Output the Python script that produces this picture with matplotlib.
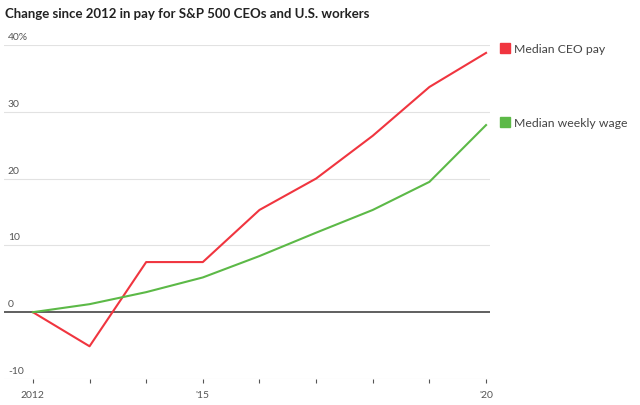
import matplotlib.pyplot as plt
import matplotlib.transforms as mtransforms

# Data (% change since 2012)
years = [2012, 2013, 2014, 2015, 2016, 2017, 2018, 2019, 2020]
ceo_pay = [0, -5.1, 7.5, 7.5, 15.3, 20.0, 26.4, 33.7, 38.8]
weekly_wage = [0, 1.2, 3.0, 5.2, 8.4, 11.9, 15.3, 19.5, 28.0]
ytick_vals = [-10, 0, 10, 20, 30, 40]
ytick_labels = ['-10', '0', '10', '20', '30', '40%']
xtick_vals = [2012, 2015, 2020]
xtick_labels = ['2012', "'15", "'20"]

red = '#f0353f'
green = '#5cb947'
plt.rcParams['font.family'] = ['Lato', 'DejaVu Sans']

fig = plt.figure(figsize=(6.4, 4.06), dpi=100)
ax = fig.add_axes([0.00625, 0.064, 0.7594, 0.823])

ax.plot(years, ceo_pay, color=red, linewidth=1.5, zorder=3)
ax.plot(years, weekly_wage, color=green, linewidth=1.5, zorder=3)

ax.set_xlim(2011.49, 2020.07)
ax.set_ylim(-10, 40)

# gridlines + labels sitting above them
trans = mtransforms.blended_transform_factory(ax.transAxes, ax.transData)
for v, lab in zip(ytick_vals, ytick_labels):
    if v == 0:
        ax.axhline(v, color='#444444', linewidth=1.2, zorder=2)
    else:
        ax.axhline(v, color='#e2e2e2', linewidth=0.8, zorder=1)
    ax.text(0.008, v + 0.6, lab, transform=trans, fontsize=7.5, color='#555555',
            ha='left', va='bottom')

for s in ['top', 'right', 'left', 'bottom']:
    ax.spines[s].set_visible(False)
ax.set_yticks([])
ax.set_xticks(years)
ax.set_xticklabels([xtick_labels[xtick_vals.index(y)] if y in xtick_vals else '' for y in years])
ax.tick_params(axis='x', length=3, width=0.8, color='#555555', labelsize=7.5,
               labelcolor='#555555', pad=5)

fig.text(0.008, 0.965, 'Change since 2012 in pay for S&P 500 CEOs and U.S. workers',
         fontsize=9.5, fontweight='bold', color='#222222', ha='left', va='center')

# legend labels at right
fig.patches.append(plt.Rectangle((0.781, 0.866), 0.0155, 0.0245, transform=fig.transFigure,
                                 color=red, figure=fig))
fig.text(0.803, 0.878, 'Median CEO pay', fontsize=8.8, color='#444444', va='center')
fig.patches.append(plt.Rectangle((0.781, 0.684), 0.0155, 0.0245, transform=fig.transFigure,
                                 color=green, figure=fig))
fig.text(0.803, 0.696, 'Median weekly wage', fontsize=8.8, color='#444444', va='center')

fig.savefig('out.png', dpi=100)
